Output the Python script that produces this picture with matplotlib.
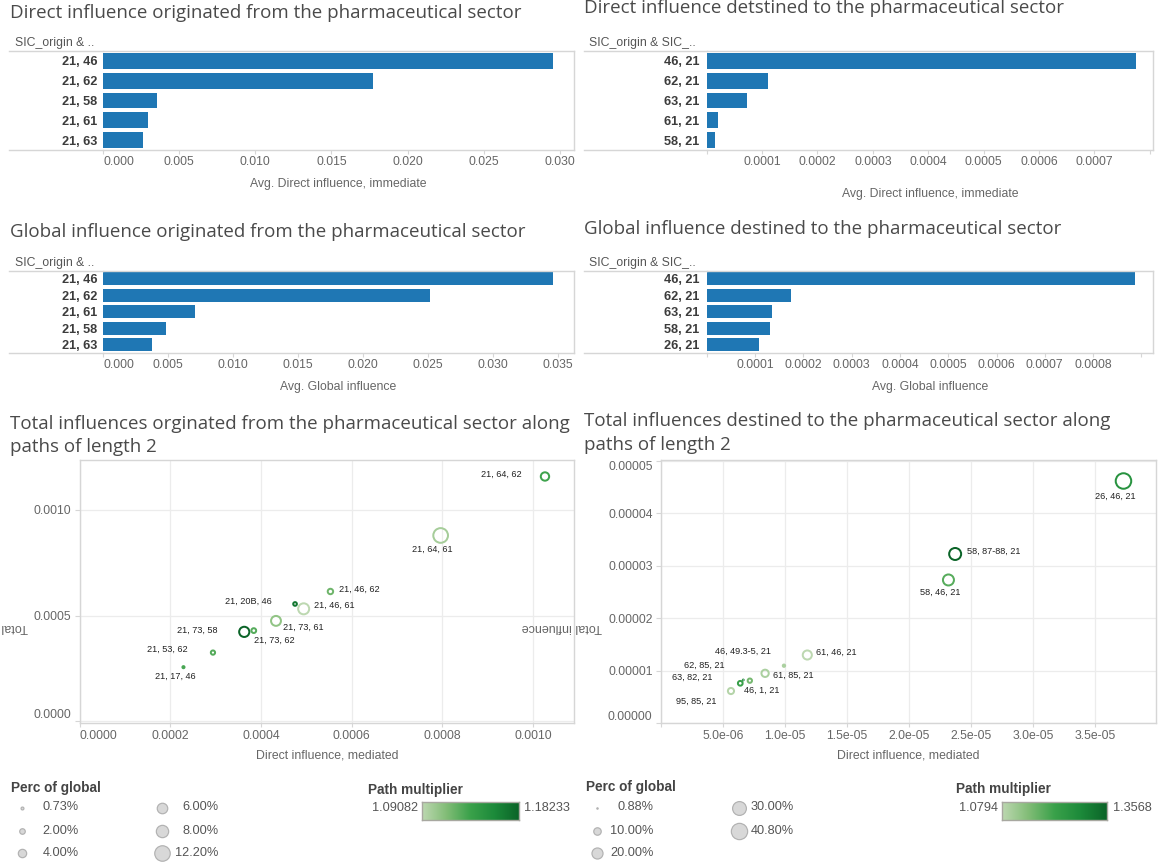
import numpy as np
import matplotlib
matplotlib.use("Agg")
import matplotlib.pyplot as plt
from matplotlib.colors import LinearSegmentedColormap, Normalize
from matplotlib.lines import Line2D

# ---------------------------------------------------------------- data
orig_direct_cats = ["21, 46", "21, 62", "21, 58", "21, 61", "21, 63"]
orig_direct_vals = [0.02951, 0.01775, 0.00355, 0.00296, 0.00265]

dest_direct_cats = ["46, 21", "62, 21", "63, 21", "61, 21", "58, 21"]
dest_direct_vals = [0.000775, 0.000110, 0.000072, 0.000020, 0.0000147]

orig_global_cats = ["21, 46", "21, 62", "21, 61", "21, 58", "21, 63"]
orig_global_vals = [0.03457, 0.02511, 0.00709, 0.00487, 0.00379]

dest_global_cats = ["46, 21", "62, 21", "63, 21", "58, 21", "26, 21"]
dest_global_vals = [0.000887, 0.000175, 0.000135, 0.000131, 0.000108]

orig_paths = ["21, 64, 62", "21, 64, 61", "21, 46, 62", "21, 20B, 46", "21, 46, 61",
              "21, 73, 61", "21, 73, 58", "21, 73, 62", "21, 53, 62", "21, 17, 46"]
orig_mediated = [0.001026, 0.000796, 0.000553, 0.000475, 0.000494,
                 0.000433, 0.000363, 0.000384, 0.000294, 0.000229]
orig_total = [0.001158, 0.000879, 0.000614, 0.000555, 0.000532,
              0.000475, 0.000423, 0.000429, 0.000325, 0.000256]
orig_perc = [4.7, 12.2, 2.4, 1.4, 7.4, 6.2, 6.5, 2.0, 1.7, 0.73]
orig_mult = [1.135, 1.100, 1.120, 1.170, 1.0908, 1.108, 1.1823, 1.128, 1.128, 1.132]

dest_paths = ["26, 46, 21", "58, 87-88, 21", "58, 46, 21", "61, 46, 21", "46, 49.3-5, 21",
              "61, 85, 21", "46, 1, 21", "62, 85, 21", "63, 82, 21", "95, 85, 21"]
dest_mediated = [3.728e-5, 2.372e-5, 2.318e-5, 1.181e-5, 9.93e-6,
                 8.41e-6, 7.18e-6, 6.65e-6, 6.41e-6, 5.66e-6]
dest_total = [4.613e-5, 3.223e-5, 2.728e-5, 1.299e-5, 1.095e-5,
              9.50e-6, 8.10e-6, 8.23e-6, 7.60e-6, 6.13e-6]
dest_perc = [40.8, 26.0, 22.5, 16.4, 2.5, 11.5, 5.3, 0.88, 6.0, 8.8]
dest_mult = [1.26, 1.3568, 1.19, 1.0794, 1.10, 1.10, 1.16, 1.30, 1.22, 1.09]

orig_size_legend = [0.73, 2.00, 4.00, 6.00, 8.00, 12.20]
dest_size_legend = [0.88, 10.00, 20.00, 30.00, 40.80]
orig_mult_range = (1.09082, 1.18233)
dest_mult_range = (1.0794, 1.3568)

orig_direct_ticks = [0, 0.005, 0.010, 0.015, 0.020, 0.025, 0.030]
dest_direct_ticks = [0, 0.0001, 0.0002, 0.0003, 0.0004, 0.0005, 0.0006, 0.0007, 0.0008]
orig_global_ticks = [0, 0.005, 0.010, 0.015, 0.020, 0.025, 0.030, 0.035]
dest_global_ticks = [0, 0.0001, 0.0002, 0.0003, 0.0004, 0.0005, 0.0006, 0.0007, 0.0008, 0.0009]
orig_sc_xticks = [0, 0.0002, 0.0004, 0.0006, 0.0008, 0.0010]
orig_sc_yticks = [0, 0.0005, 0.0010]
dest_sc_xticks = [0, 5e-6, 1e-5, 1.5e-5, 2e-5, 2.5e-5, 3e-5, 3.5e-5]
dest_sc_yticks = [0, 1e-5, 2e-5, 3e-5, 4e-5, 5e-5]

# ---------------------------------------------------------------- style
W, H = 1158, 865
PT = 0.72  # points per pixel at 100 dpi
BAR_BLUE = "#1f77b4"
FRAME = "#d6d6d6"
GRID = "#ececec"
TICK_TXT = "#666666"
TITLE_TXT = "#4a4a4a"
TITLE_FONT = ["Open Sans", "DejaVu Sans"]
plt.rcParams["font.family"] = ["Liberation Sans", "DejaVu Sans"]

greens = LinearSegmentedColormap.from_list(
    "path_green", ["#bdd8b1", "#82bd77", "#3aa14a", "#1c8a3a", "#0b6428"])

fig = plt.figure(figsize=(W / 100, H / 100), dpi=100)
fig.patch.set_facecolor("white")


def px_axes(l, t, r, b):
    return fig.add_axes([l / W, 1 - b / H, (r - l) / W, (b - t) / H])


def style_spines(ax, visible):
    for side, sp in ax.spines.items():
        sp.set_visible(side in visible)
        sp.set_color(FRAME)
        sp.set_linewidth(1.0)


def bar_panel(rect, cats, vals, xmax, ticks, labelled, fmt, label_pad):
    l, t, r, b = rect
    ax = px_axes(l, t, r, b)
    pos = np.arange(len(cats))
    ax.barh(pos, vals, height=0.79, color=BAR_BLUE)
    ax.set_ylim(len(cats) - 0.5, -0.5)
    ax.set_xlim(0, xmax)
    ax.set_yticks(pos)
    ax.set_yticklabels(cats, fontweight="bold", fontsize=9.2, color="#3c3c3c")
    ax.tick_params(axis="y", length=0, pad=label_pad * PT)
    ax.set_xticks(ticks)
    ax.set_xticklabels([fmt.format(v) if lab else "" for v, lab in zip(ticks, labelled)],
                       fontsize=8.8, color=TICK_TXT)
    ax.tick_params(axis="x", length=3.7 * PT, width=0.8, color=FRAME, pad=1.8)
    style_spines(ax, ("top", "bottom", "right"))
    return ax


# ---------------------------------------------------------------- bar charts
ax1 = bar_panel((103, 51, 574, 150), orig_direct_cats, orig_direct_vals, 0.03092,
                orig_direct_ticks, [True] * 7, "{:.3f}", 6)
ax1.get_xticklabels()[0].set_ha("left")

ax2 = bar_panel((706.7, 51, 1153, 150), dest_direct_cats, dest_direct_vals, 0.000806,
                dest_direct_ticks, [False] + [True] * 7 + [False], "{:.4f}", 7.4)

ax3 = bar_panel((103, 270.7, 574, 352.7), orig_global_cats, orig_global_vals, 0.03621,
                orig_global_ticks, [True] * 8, "{:.3f}", 6)
ax3.get_xticklabels()[0].set_ha("left")

ax4 = bar_panel((706.7, 270.7, 1153, 352.7), dest_global_cats, dest_global_vals, 0.000924,
                dest_global_ticks, [False] + [True] * 8 + [False], "{:.4f}", 7.4)


# ---------------------------------------------------------------- scatter plots
def scatter_panel(rect, xs, ys, perc, mult, names, offsets, xlim, ylim,
                  xticks, xlabels, yticks, ylabels, norm, k):
    l, t, r, b = rect
    ax = px_axes(l, t, r, b)
    ax.set_xlim(*xlim)
    ax.set_ylim(*ylim)
    ax.set_xticks(xticks)
    ax.set_xticklabels(xlabels, fontsize=8.8, color=TICK_TXT)
    ax.set_yticks(yticks)
    ax.set_yticklabels(ylabels, fontsize=8.8, color=TICK_TXT)
    ax.tick_params(axis="x", length=3.5 * PT, width=0.8, color=FRAME, pad=2.2)
    ax.tick_params(axis="y", length=5 * PT, width=0.8, color=FRAME, pad=2.3)
    ax.grid(True, color=GRID, linewidth=0.9)
    ax.set_axisbelow(True)
    style_spines(ax, ("top", "bottom", "left", "right"))
    lw_px = 2.0
    diam = k * np.sqrt(np.asarray(perc))
    sizes = (np.maximum(diam - lw_px, 0.8) * PT) ** 2
    ax.scatter(xs, ys, s=sizes, facecolors="none", edgecolors=greens(norm(np.asarray(mult))),
               linewidths=lw_px * PT, zorder=3)
    for name, x, y, (dx, dy, ha) in zip(names, xs, ys, offsets):
        ax.annotate(name, (x, y), xytext=(dx * PT, dy * PT), textcoords="offset points",
                    ha=ha, va="center", fontsize=6.6, color="#222222", zorder=4)
    return ax


orig_offsets = [(-23, 1.7, "right"), (-8, -14.3, "center"), (8.3, 1.7, "left"),
                (-23, 2.3, "right"), (10, 3.3, "left"), (7, -6.7, "left"),
                (-26.6, 2, "right"), (0.3, -10, "left"), (-25.6, 3, "right"),
                (-8.5, -9.4, "center")]
dest_offsets = [(-8.5, -15.7, "center"), (11.4, 2.3, "left"), (-8, -12.7, "center"),
                (9, 2.3, "left"), (-13, 14, "right"), (7.8, -1.7, "left"),
                (-6, -9.3, "left"), (-18.5, 14.3, "right"), (-27.8, 5.6, "right"),
                (-14, -10.7, "right")]

ax5 = scatter_panel((79.6, 460, 574, 723.3), orig_mediated, orig_total, orig_perc, orig_mult,
                    orig_paths, orig_offsets, (0, 0.00109), (-0.0000095, 0.001236),
                    orig_sc_xticks, ["{:.4f}".format(v) for v in orig_sc_xticks],
                    orig_sc_yticks, ["{:.4f}".format(v) for v in orig_sc_yticks],
                    Normalize(*orig_mult_range), 4.78)
ax5.get_xticklabels()[0].set_ha("left")
ax5.get_yticklabels()[0].set_va("bottom")

ax6 = scatter_panel((660.7, 460, 1156, 723.2), dest_mediated, dest_total, dest_perc, dest_mult,
                    dest_paths, dest_offsets, (0, 3.99e-5), (0, 5.013e-5),
                    dest_sc_xticks, [""] + ["{:.1e}".format(v) for v in dest_sc_xticks[1:]],
                    dest_sc_yticks, ["{:.5f}".format(v) for v in dest_sc_yticks],
                    Normalize(*dest_mult_range), 2.74)
ax6.get_yticklabels()[0].set_va("bottom")
ax6.get_yticklabels()[-1].set_va("top")

# ---------------------------------------------------------------- colour ramps
def ramp(rect):
    l, t, r, b = rect
    ax = px_axes(l, t, r, b)
    ax.imshow(np.linspace(0, 1, 256)[None, :], aspect="auto", cmap=greens,
              extent=(0, 1, 0, 1))
    ax.set_xticks([])
    ax.set_yticks([])
    for sp in ax.spines.values():
        sp.set_color("#a8a8a0")
        sp.set_linewidth(1.0)
    return ax


ramp((422, 802, 519, 820))
ramp((1002, 802, 1106.7, 820))

# ---------------------------------------------------------------- annotation layer
ov = fig.add_axes([0, 0, 1, 1])
ov.set_xlim(0, W)
ov.set_ylim(H, 0)
ov.axis("off")


def title(x, y, s):
    ov.text(x, y, s, fontsize=13.5, color=TITLE_TXT, family=TITLE_FONT,
            ha="left", va="baseline")


title(10, 18.3, "Direct influence originated from the pharmaceutical sector")
title(584.4, 13.3, "Direct influence detstined to the pharmaceutical sector")
title(10, 237.3, "Global influence originated from the pharmaceutical sector")
title(584.4, 234.3, "Global influence destined to the pharmaceutical sector")
title(10, 429, "Total influences orginated from the pharmaceutical sector along")
title(10, 452, "paths of length 2")
title(584.4, 426, "Total influences destined to the pharmaceutical sector along")
title(584.4, 449.5, "paths of length 2")

# row-header captions and frame lines running across the header column
for hx, hy, txt in [(15, 43, "SIC_origin & .."), (589, 43, "SIC_origin & SIC_.."),
                    (15, 263, "SIC_origin & .."), (589, 263, "SIC_origin & SIC_..")]:
    ov.text(hx, hy, txt, fontsize=8.8, color="#555555", ha="left", va="center")

for x0, x1, ys in [(9, 103, (51, 150)), (583.7, 706.7, (51, 150)),
                   (9, 103, (270.7, 352.7)), (583.7, 706.7, (270.7, 352.7))]:
    for yy in ys:
        ov.add_line(Line2D([x0, x1], [yy, yy], color=FRAME, lw=1.0))

# axis titles
for cx, cy, txt in [(338.5, 184, "Avg. Direct influence, immediate"),
                    (930, 194, "Avg. Direct influence, immediate"),
                    (338.5, 386.7, "Avg. Global influence"),
                    (930, 386.7, "Avg. Global influence"),
                    (326.8, 755, "Direct influence, mediated"),
                    (908.4, 755, "Direct influence, mediated")]:
    ov.text(cx, cy, txt, fontsize=8.8, color=TICK_TXT, ha="center", va="center")

# upside-down vertical axis titles of the two scatter panes
for rx in (27.8, 602):
    ov.text(rx, 626.5, "Total influence", rotation=180, fontsize=9, color=TICK_TXT,
            ha="right", va="center")


# size legends
def size_legend(title_xy, cols, values, k):
    ov.text(*title_xy, "Perc of global", fontsize=9.8, fontweight="bold", color="#444444",
            ha="left", va="center")
    rows_y = [807.5, 831, 853.3]
    idx = 0
    for cx, tx, n in cols:
        for j in range(n):
            v = values[idx]
            d = k * np.sqrt(v)
            ov.scatter([cx], [rows_y[j]], s=((d - 1.2) * PT) ** 2, facecolor="#d8d8d8",
                       edgecolor="#b2b2b2", linewidths=1.2 * PT, zorder=3)
            ov.text(tx, rows_y[j], "{:.2f}%".format(v), fontsize=9.2, color="#555555",
                    ha="right", va="center")
            idx += 1


size_legend((11, 788), [(22, 79, 3), (162, 218.5, 3)], orig_size_legend, 4.78)
size_legend((585.6, 787), [(596.7, 653.3, 3), (738.5, 794, 2)], dest_size_legend, 2.74)

for tx, ty, lo, hi, lo_x, hi_x in [(368.5, 790, *orig_mult_range, 418.5, 524),
                                   (956, 789, *dest_mult_range, 998.5, 1113)]:
    ov.text(tx, ty, "Path multiplier", fontsize=9.8, fontweight="bold", color="#444444",
            ha="left", va="center")
    ov.text(lo_x, 808, "{:g}".format(lo), fontsize=9.2, color="#555555", ha="right", va="center")
    ov.text(hi_x, 808, "{:g}".format(hi), fontsize=9.2, color="#555555", ha="left", va="center")

fig.savefig("out.png", dpi=100, facecolor="white")
